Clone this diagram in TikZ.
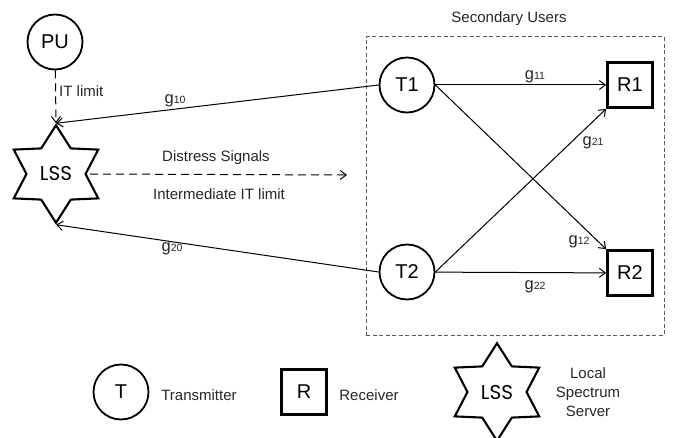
\documentclass[tikz,border=0pt]{standalone}
\usepackage{fontspec}
\setmainfont{Liberation Sans}
\newfontfamily\lssfont{Poppins}
\usetikzlibrary{shapes.geometric,arrows.meta}
\begin{document}
\begin{tikzpicture}[x=1pt,y=-1pt,
  lbl/.style={font=\fontsize{15}{18}\selectfont, text=black!85, inner sep=1pt},
  gl/.style={font=\fontsize{16.5}{18}\selectfont, text=black!85, inner sep=1pt},
  circnode/.style={circle, draw, line width=1.8pt, minimum size=55pt, inner sep=0pt, font=\fontsize{20}{24}\selectfont},
  sqnode/.style={rectangle, draw, line width=2.7pt, minimum size=45pt, inner sep=0pt, font=\fontsize{20}{24}\selectfont},
  starnode/.style={star, star points=6, star point ratio=1.65, text width=37pt, text height=14pt, text depth=0pt, align=center, inner sep=2.4pt, draw, line width=2.1pt, font=\lssfont\fontsize{20}{24}\selectfont},
  link/.style={line width=1pt, -{Straight Barb[length=6pt,width=9pt]}},
  dlink/.style={link, dash pattern=on 8pt off 5pt},
]
\newcommand{\gsub}[1]{g{\fontsize{10.5}{12}\selectfont #1}}
\useasboundingbox (0,0) rectangle (674,438);
% secondary users area
\node[draw=black!65, line width=1pt, dash pattern=on 4pt off 2.5pt, minimum width=298pt, minimum height=298pt, inner sep=0pt] (area) at (515,186) {};
\node[lbl] (sulbl) at (509,19) {Secondary Users};
% nodes
\node[circnode] (PU) at (55,42) {PU};
\node[starnode] (LSS) at (56,174) {LSS};
\node[circnode] (T1) at (407,85) {T1};
\node[circnode] (T2) at (407,272) {T2};
\node[sqnode] (R1) at (630,85) {R1};
\node[sqnode] (R2) at (630,273) {R2};
% connectors
\draw[link] (T1) -- (R1);
\draw[link] (T1.east) -- (R2.north west);
\draw[link] (T2.east) -- (R1.south west);
\draw[link] (T2) -- (R2);
\draw[link] (T1.west) -- (LSS.outer point 1);
\draw[link] (T2.west) -- (LSS.outer point 4);
\draw[dlink] (PU) -- (LSS.outer point 1);
\coordinate (dsend) at (347,175);
\draw[dlink] ([xshift=34pt]LSS.center) -- (dsend);
% labels
\node[gl] (g11) at (535,77) {\gsub{11}};
\node[gl] (g21) at (593,143) {\gsub{21}};
\node[gl] (g12) at (579,242) {\gsub{12}};
\node[gl] (g22) at (535,287) {\gsub{22}};
\node[gl] (g10) at (175,101) {\gsub{10}};
\node[gl] (g20) at (172,249) {\gsub{20}};
\node[lbl, anchor=west] (itl) at (58,91) {IT limit};
\node[lbl] (ds) at (216,158) {Distress Signals};
\node[lbl] (iit) at (219,194) {Intermediate IT limit};
% legend
\node[circnode] (LT) at (121,392) {T};
\node[lbl] (LTt) at (199,395) {Transmitter};
\node[sqnode] (LR) at (304,392) {R};
\node[lbl] (LRt) at (369,395) {Receiver};
\node[starnode] (LL) at (497,392) {LSS};
\node[lbl, align=center, font=\fontsize{15}{19}\selectfont] (LLt) at (588,392) {Local\\Spectrum\\Server};
\end{tikzpicture}
\end{document}
